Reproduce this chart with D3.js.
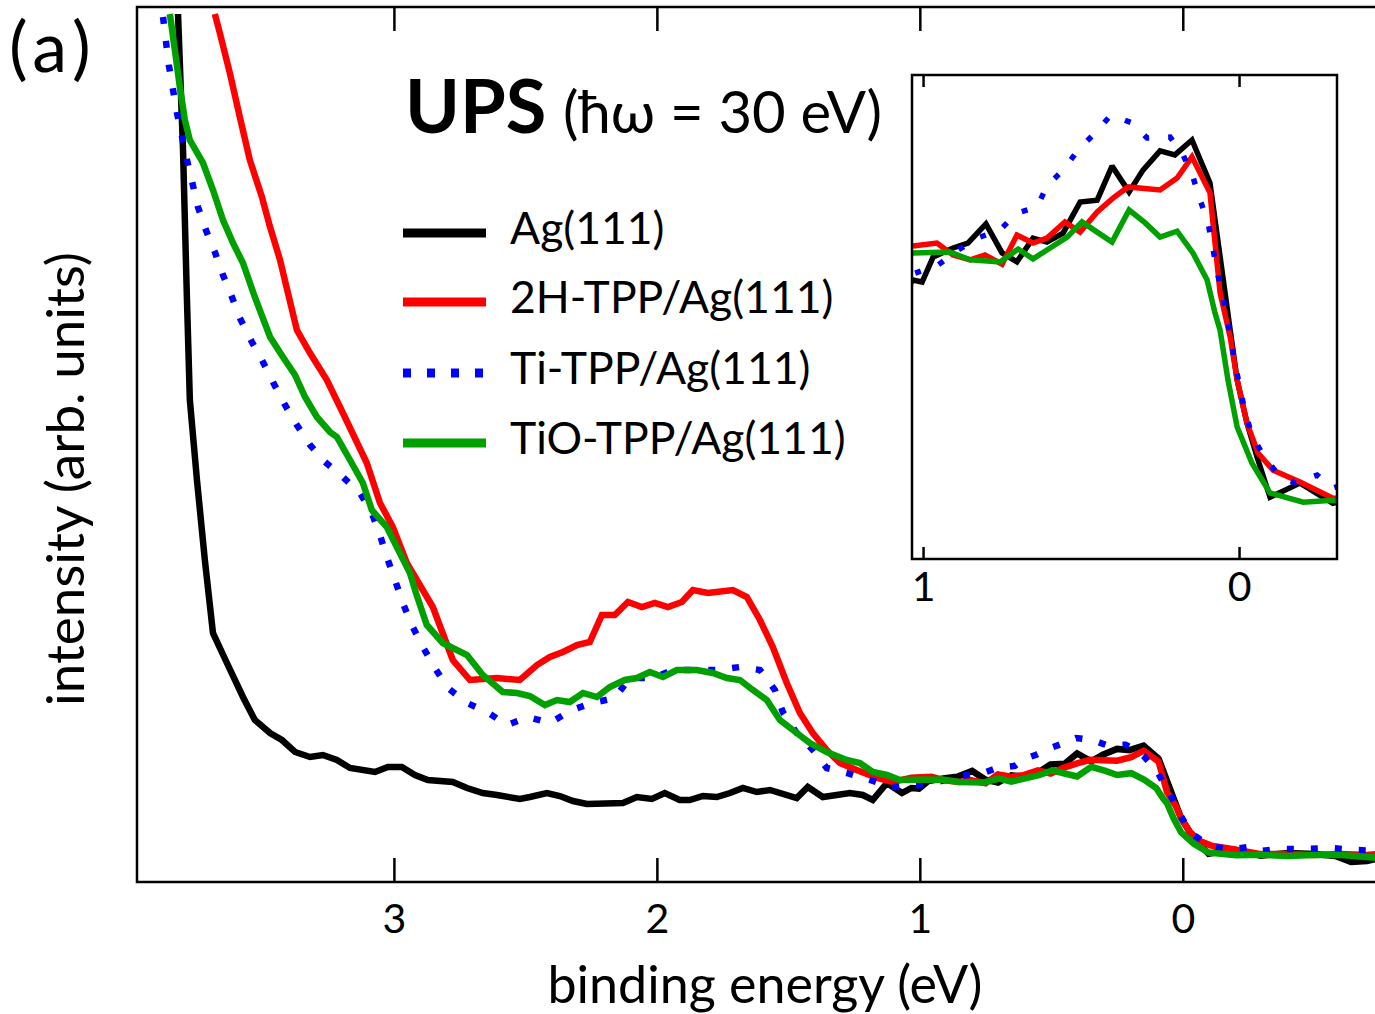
<!DOCTYPE html>
<html>
<head>
<meta charset="utf-8">
<script src="https://cdn.jsdelivr.net/npm/d3@7"></script>
<style>
  html, body { margin: 0; padding: 0; background: #fff; }
  svg { display: block; font-family: Lato, "Open Sans", sans-serif; }
</style>
</head>
<body>
<svg id="chart" width="1375" height="1014"></svg>
<script>
// UPS spectra, binding energy (eV) vs intensity (arb. units)
const seriesNames = ["Ag(111)", "2H-TPP/Ag(111)", "Ti-TPP/Ag(111)", "TiO-TPP/Ag(111)"];
const seriesColors = ["#000000", "#ff0000", "#0000ff", "#00a000"];

const agEnergy = [3.821,3.802,3.787,3.776,3.749,3.719,3.688,3.635,3.574,3.529,3.471,3.426,3.376,3.319,3.270,3.217,3.167,3.072,3.023,2.970,2.920,2.871,2.776,2.722,2.662,2.608,2.521,2.483,2.418,2.369,2.319,2.266,2.129,2.076,2.019,1.970,1.913,1.875,1.825,1.772,1.722,1.673,1.620,1.570,1.468,1.426,1.369,1.316,1.266,1.217,1.179,1.125,1.068,1.032,1.003,0.968,0.905,0.858,0.801,0.750,0.703,0.652,0.608,0.557,0.503,0.449,0.402,0.348,0.304,0.250,0.203,0.149,0.092,0.028,0.006,-0.025,-0.057,-0.098,-0.193,-0.297,-0.40,-0.50,-0.58,-0.64,-0.70,-0.75];
const agIntensity = [868,732,582,482,402,322,249,219,185,162,149,142,130,125,127,122,114,110,115,115,107,102,100,94,89,87,83,85,89,86,81,78,79,85,83,89,82,82,86,85,89,94,90,92,84,95,85,87,89,87,82,99,89,94,93.4,101,103.7,105.2,111,102.2,99.5,106.7,105.5,108.2,117.6,118.2,128.5,120.7,127.3,133.1,131.9,136.4,123.4,78.8,63.7,50.7,40.4,28.2,32.5,26.4,29,28,26,20,21,24];

const h2tppEnergy = [3.681,3.662,3.624,3.586,3.548,3.502,3.471,3.433,3.403,3.369,3.319,3.255,3.194,3.103,3.053,3.004,2.951,2.852,2.776,2.711,2.608,2.521,2.456,2.407,2.357,2.304,2.255,2.209,2.160,2.110,2.057,2.008,1.958,1.905,1.863,1.806,1.711,1.658,1.608,1.559,1.506,1.456,1.407,1.354,1.304,1.240,1.163,1.103,1.032,0.956,0.905,0.851,0.804,0.750,0.703,0.652,0.608,0.551,0.503,0.449,0.399,0.351,0.250,0.196,0.149,0.092,0.060,0.028,0.006,-0.025,-0.060,-0.108,-0.193,-0.297,-0.40,-0.50,-0.60,-0.70,-0.75];
const h2tppIntensity = [868,849,809,765,722,685,655,622,589,552,529,502,469,419,379,355,319,275,222,202,204,202,217,225,230,237,240,267,267,280,275,279,275,280,292,289,292,285,262,235,199,169,149,132,119,112,104,100,104.3,105.2,101.6,100.1,101.6,98.8,107.6,105.2,106.7,111.6,108.5,114.6,118.8,122.2,121.3,124.9,131.3,120.4,90.1,76.7,63.7,50.7,41.6,36.4,32.8,27.9,28,27,28,27,28];

const titppEnergy = [3.878,3.856,3.825,3.787,3.745,3.715,3.681,3.650,3.616,3.586,3.540,3.498,3.460,3.414,3.369,3.319,3.262,3.194,3.129,3.084,3.053,3.027,2.996,2.966,2.932,2.890,2.844,2.795,2.722,2.646,2.570,2.490,2.407,2.323,2.247,2.160,2.103,2.015,1.939,1.856,1.768,1.684,1.608,1.551,1.521,1.468,1.407,1.354,1.278,1.190,1.103,1.025,0.953,0.889,0.820,0.756,0.703,0.639,0.608,0.557,0.509,0.456,0.405,0.339,0.291,0.218,0.177,0.146,0.123,0.098,0.070,0.038,0.013,-0.019,-0.041,-0.076,-0.120,-0.177,-0.247,-0.297,-0.36,-0.45,-0.56,-0.66,-0.75];
const titppIntensity = [865,817,769,722,675,652,630,607,585,564,540,520,500,477,457,437,420,405,389,369,347,325,302,279,257,235,214,194,179,170,157,165,159,172,179,184,204,204,212,212,212,215,212,192,170,149,132,114,109,102,95,96.1,98.5,103.1,107,109.2,114.3,116.1,122.5,127.3,133.4,138.5,144,141.6,137,137.3,131.9,125.2,118.2,111.3,97,82.8,68.8,54,47,41,35.5,32.5,34.9,31,33,33,34,32,31];

const tiotppEnergy = [3.852,3.833,3.814,3.795,3.776,3.726,3.688,3.650,3.612,3.574,3.529,3.471,3.422,3.376,3.338,3.293,3.243,3.217,3.167,3.118,3.084,3.027,2.989,2.939,2.916,2.875,2.814,2.722,2.662,2.586,2.532,2.483,2.426,2.380,2.331,2.281,2.228,2.179,2.122,2.076,2.027,1.977,1.924,1.848,1.787,1.734,1.684,1.635,1.582,1.532,1.468,1.418,1.354,1.278,1.228,1.179,1.125,1.076,1.032,0.915,0.851,0.756,0.699,0.652,0.598,0.544,0.497,0.449,0.402,0.348,0.297,0.250,0.196,0.146,0.101,0.076,0.060,0.035,0.006,-0.041,-0.098,-0.203,-0.297,-0.40,-0.50,-0.60,-0.70,-0.75];
const tiotppIntensity = [868,832,795,762,742,719,692,662,639,619,585,545,525,507,485,465,450,445,422,399,372,355,335,309,289,257,239,227,207,190,189,186,177,182,180,189,185,195,202,204,210,205,212,212,209,204,202,192,182,162,149,139,130,122,119,110,107,102,102.2,102.5,100.1,99.5,103.4,100.4,103.7,107,111.6,108.5,105.5,115.2,111.3,107,108.8,102.2,94,84,78.8,63.7,49.5,38.5,29.5,26.7,27.3,26,27,27,25,24];

const mainTicks = [3, 2, 1, 0];
const insetTicks = [1, 0];

const energies = [agEnergy, h2tppEnergy, titppEnergy, tiotppEnergy];
const intensities = [agIntensity, h2tppIntensity, titppIntensity, tiotppIntensity];
const series = seriesNames.map((name, i) => ({
  name,
  color: seriesColors[i],
  dotted: i === 2,
  points: energies[i].map((e, j) => ({ e, v: intensities[i][j] }))
}));
// drawing order: substrate first, TiO-TPP on top
const drawOrder = [0, 1, 2, 3];

const svg = d3.select("#chart");

// ---- main panel ----
const M = { left: 137, top: 7, bottom: 882, right: 1375 };
const x = d3.scaleLinear().domain([3.977, -0.75]).range([137, 1380]);
const y = d3.scaleLinear().domain([0, 875]).range([M.bottom, M.top]);

svg.append("clipPath").attr("id", "mainClip")
  .append("rect").attr("x", M.left).attr("y", M.top)
  .attr("width", M.right - M.left).attr("height", M.bottom - M.top);

const mainLine = d3.line().x(d => x(d.e)).y(d => y(d.v));
const mainG = svg.append("g").attr("clip-path", "url(#mainClip)");
drawOrder.forEach(i => {
  const s = series[i];
  mainG.append("path")
    .attr("d", mainLine(s.points))
    .attr("fill", "none")
    .attr("stroke", s.color)
    .attr("stroke-width", 6.5)
    .attr("stroke-linejoin", "miter")
    .attr("stroke-miterlimit", 2)
    .attr("stroke-dasharray", s.dotted ? "7,17" : null);
});

// axes frame
const bottomAxis = d3.axisBottom(x).tickValues(mainTicks).tickFormat(d3.format("d"))
  .tickSize(-24).tickSizeOuter(0).tickPadding(22);
const gb = svg.append("g").attr("transform", `translate(0,${M.bottom})`).call(bottomAxis);
const topAxis = d3.axisTop(x).tickValues(mainTicks).tickFormat("").tickSize(-24).tickSizeOuter(0);
const gt = svg.append("g").attr("transform", `translate(0,${M.top})`).call(topAxis);
[gb, gt].forEach(g => {
  g.select(".domain").remove();
  g.selectAll(".tick line").attr("stroke", "#000").attr("stroke-width", 2.5);
  g.selectAll(".tick text").attr("font-size", 41).attr("fill", "#000")
    .attr("font-family", "Lato, 'Open Sans', sans-serif");
});
svg.append("path")
  .attr("d", `M${M.right},${M.top}H${M.left}V${M.bottom}H${M.right}`)
  .attr("fill", "none").attr("stroke", "#000").attr("stroke-width", 2.5);

// axis titles
svg.append("text").attr("x", 765).attr("y", 1003).attr("text-anchor", "middle")
  .attr("font-size", 52).text("binding energy (eV)");
svg.append("text").attr("transform", "translate(84,479) rotate(-90)")
  .attr("text-anchor", "middle").attr("font-size", 53).text("intensity (arb. units)");

// panel label
svg.append("text").attr("x", 9).attr("y", 72).attr("font-size", 70)
  .attr("letter-spacing", 6).text("(a)");

// title
svg.append("text").attr("x", 405).attr("y", 133).attr("font-size", 74)
  .attr("font-weight", "bold").text("UPS");
svg.append("text").attr("x", 563).attr("y", 133).attr("font-size", 58)
  .text("(ħω = 30 eV)");

// legend
const legendY = [233, 302, 373, 443];
const legend = svg.append("g");
series.forEach((s, i) => {
  legend.append("line")
    .attr("x1", 403).attr("x2", 486).attr("y1", legendY[i]).attr("y2", legendY[i])
    .attr("stroke", s.color).attr("stroke-width", 9)
    .attr("stroke-dasharray", s.dotted ? "8,16" : null);
  legend.append("text").attr("x", 510).attr("y", legendY[i] + 11)
    .attr("font-size", 44.5).text(s.name);
});

// ---- inset: Fermi edge region ----
const I = { left: 912, right: 1337, top: 75, bottom: 559 };
const xi = d3.scaleLinear().domain([1.035, -0.31]).range([I.left, I.right]);
const yi = d3.scaleLinear().domain([9.5, 156.1]).range([I.bottom, I.top]);

svg.append("rect").attr("x", I.left).attr("y", I.top)
  .attr("width", I.right - I.left).attr("height", I.bottom - I.top).attr("fill", "#fff");
svg.append("clipPath").attr("id", "insetClip")
  .append("rect").attr("x", I.left).attr("y", I.top)
  .attr("width", I.right - I.left).attr("height", I.bottom - I.top);

const insetLine = d3.line().x(d => xi(d.e)).y(d => yi(d.v));
const insetG = svg.append("g").attr("clip-path", "url(#insetClip)");
drawOrder.forEach(i => {
  const s = series[i];
  insetG.append("path")
    .attr("d", insetLine(s.points.filter(p => p.e <= 1.1 && p.e >= -0.4)))
    .attr("fill", "none")
    .attr("stroke", s.color)
    .attr("stroke-width", 5.5)
    .attr("stroke-linejoin", "miter")
    .attr("stroke-miterlimit", 2)
    .attr("stroke-dasharray", s.dotted ? "6,19" : null);
});

const ib = d3.axisBottom(xi).tickValues(insetTicks).tickFormat(d3.format("d"))
  .tickSize(-12).tickSizeOuter(0).tickPadding(13);
const gib = svg.append("g").attr("transform", `translate(0,${I.bottom})`).call(ib);
const it = d3.axisTop(xi).tickValues(insetTicks).tickFormat("").tickSize(-12).tickSizeOuter(0);
const git = svg.append("g").attr("transform", `translate(0,${I.top})`).call(it);
[gib, git].forEach(g => {
  g.select(".domain").remove();
  g.selectAll(".tick line").attr("stroke", "#000").attr("stroke-width", 2.5);
  g.selectAll(".tick text").attr("font-size", 41).attr("fill", "#000")
    .attr("font-family", "Lato, 'Open Sans', sans-serif");
});
svg.append("rect").attr("x", I.left).attr("y", I.top)
  .attr("width", I.right - I.left).attr("height", I.bottom - I.top)
  .attr("fill", "none").attr("stroke", "#000").attr("stroke-width", 2.5);
</script>
</body>
</html>
